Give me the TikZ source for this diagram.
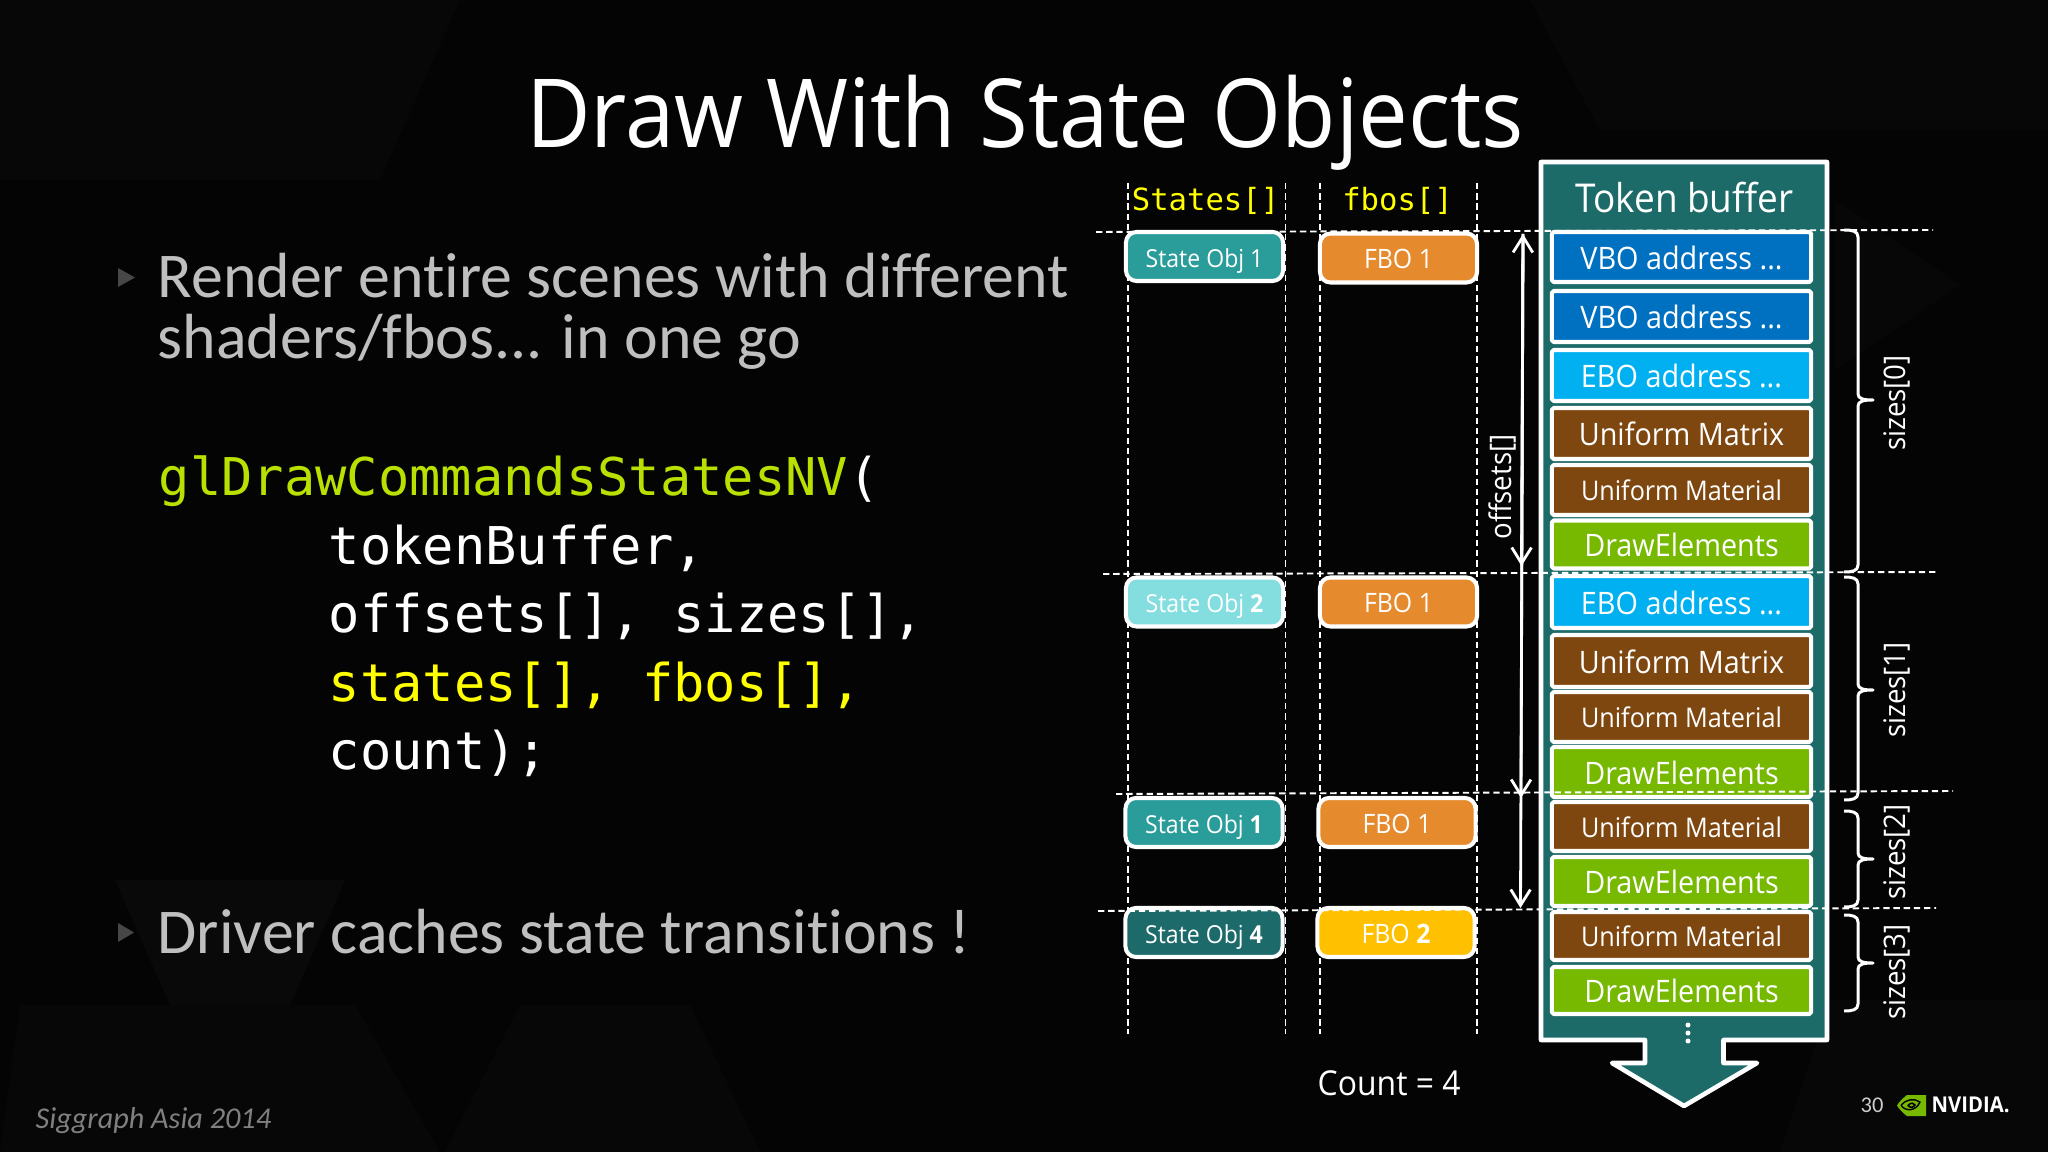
\documentclass[tikz,border=0pt]{standalone}
\usepackage{fontspec}
\setmainfont{Open Sans}[FakeStretch=0.93]
\newfontfamily\bulletfont{Carlito}[Ligatures=NoCommon]
\newfontfamily\codefont{DejaVu Sans Mono}
\usetikzlibrary{arrows.meta}
\definecolor{slidebg}{HTML}{040404}
\definecolor{facetone}{HTML}{090909}
\definecolor{facetwo}{HTML}{070707}
\definecolor{bulletgrey}{HTML}{BFBFBF}
\definecolor{nvgreen}{HTML}{76B900}
\definecolor{codegreen}{HTML}{B8E000}
\definecolor{codeyellow}{HTML}{FFFF00}
\definecolor{buffteal}{HTML}{1C6B68}
\definecolor{stateone}{HTML}{2A9D9A}
\definecolor{statetwo}{HTML}{84DEE0}
\definecolor{statefour}{HTML}{1D6A6A}
\definecolor{fboorange}{HTML}{E68A2E}
\definecolor{fboyellow}{HTML}{FFC000}
\definecolor{vboblue}{HTML}{0070C0}
\definecolor{eboblue}{HTML}{00B0F0}
\definecolor{unibrown}{HTML}{7F4710}
\newcommand{\sizecurl}[3]{\draw[sizebrace] (1844,#1) .. controls (1852,#1) and (1858,{#1+1}) .. (1858,{#1+7}) -- (1858,{#2-6}) .. controls (1858,{#2-1}) and (1864,#2) .. (1873,#2) .. controls (1864,#2) and (1858,{#2+1}) .. (1858,{#2+6}) -- (1858,{#3-7}) .. controls (1858,{#3-1}) and (1852,#3) .. (1844,#3);}
\tikzset{
	>={Straight Barb[length=4.5pt,width=5.6pt]},
	guide/.style={white,line width=0.55pt,dash pattern=on 1.8pt off 1.1pt},
	slotbox/.style={draw=white,line width=1.15pt,rounded corners=3pt,minimum width=1.57cm,minimum height=0.49cm,inner sep=0pt,text=white,text height=6pt,text depth=0pt,font=\fontsize{7.05}{8}\selectfont},
	fbobox/.style={slotbox,font=\fontsize{7.6}{9}\selectfont,text height=6.2pt},
	rowbox/.style={draw=white,line width=1.15pt,rounded corners=0.5pt,minimum width=2.59cm,inner sep=0pt,text=white,text height=6.9pt,text depth=0pt,font=\fontsize{8.8}{10}\selectfont},
	matbox/.style={rowbox,font=\fontsize{7.7}{9}\selectfont,fill=unibrown,text height=6.1pt},
	drawbox/.style={rowbox,fill=nvgreen},
	mtxbox/.style={rowbox,fill=unibrown},
	offarrow/.style={white,line width=0.8pt},
	sizebrace/.style={white,line width=0.85pt},
	sizelabel/.style={white,rotate=90,inner sep=0pt,font=\fontsize{8.45}{10}\selectfont},
	bulletmark/.style={fill=black!72!white},
	bullettext/.style={anchor=base west,inner sep=0pt,text=bulletgrey,font=\bulletfont\fontsize{18.15}{20}\selectfont},
	codetext/.style={anchor=base west,inner sep=0pt,text=white,font=\codefont\fontsize{14.8}{16}\selectfont},
	headtext/.style={anchor=base,inner sep=0pt,text=codeyellow,font=\codefont\fontsize{8.7}{10}\selectfont}
}
\begin{document}
\begin{tikzpicture}[line cap=butt,line join=round,x=0.01cm,y=-0.01cm]
	\useasboundingbox (0,0) rectangle (2048,1152);
	\fill[slidebg] (0,0) rectangle (2048,1152);
	% faint facets of the backdrop
	\fill[facetone] (115,880) -- (345,880) -- (290,1005) -- (170,1005) -- cycle;
	\fill[facetwo] (20,1005) -- (170,1005) -- (120,1152) -- (0,1152) -- cycle;
	\fill[facetwo] (170,1005) -- (355,1005) -- (440,1152) -- (120,1152) -- cycle;
	\fill[facetwo] (520,1005) -- (690,1005) -- (760,1152) -- (445,1152) -- cycle;
	\fill[facetwo] (0,0) -- (200,0) -- (120,180) -- (0,180) -- cycle;
	\fill[facetwo] (200,0) -- (460,0) -- (380,180) -- (120,180) -- cycle;
	\fill[facetwo] (1835,200) -- (1960,285) -- (1835,370) -- cycle;
	\fill[facetwo] (1830,1000) -- (2048,1000) -- (2048,1152) -- (1780,1152) -- cycle;
	\fill[facetwo] (1530,0) -- (2048,0) -- (2048,130) -- (1600,130) -- cycle;
	% title and left column
	\node[anchor=base,inner sep=0pt,white,font=\fontsize{27.1}{30}\selectfont] (title) at (1025,148) {Draw With State Objects};
	\fill[bulletmark] (118,268) -- (135,277.5) -- (118,287) -- cycle;
	\node[bullettext] (render) at (157,297.5) {Render entire scenes with different};
	\node[bullettext] (shaders) at (157,359) {shaders/fbos... in one go};
	\node[codetext] (glcall) at (158,496) {\textcolor{codegreen}{glDrawCommandsStatesNV}(};
	\node[codetext] (tokenarg) at (328,564) {tokenBuffer,};
	\node[codetext] (offsetarg) at (328,633) {offsets[], sizes[],};
	\node[codetext,text=codeyellow] (statearg) at (328,701) {states[], fbos[],};
	\node[codetext] (countarg) at (328,769) {count);};
	\fill[bulletmark] (118,923) -- (134,932.5) -- (118,942) -- cycle;
	\node[bullettext] (driver) at (157,953) {Driver caches state transitions !};
	\node[anchor=base west,inner sep=0pt,text=black!50!white,font=\bulletfont\itshape\fontsize{8.6}{10}\selectfont] (venue) at (35,1128) {Siggraph Asia 2014};
	% column guides
	\coordinate (colAtop) at (1128,183);
	\coordinate (colAend) at (1128,1034);
	\coordinate (colBtop) at (1285.5,183);
	\coordinate (colBend) at (1285.5,1034);
	\coordinate (colCtop) at (1320,183);
	\coordinate (colCend) at (1320,1034);
	\coordinate (colDtop) at (1477,183);
	\coordinate (colDend) at (1477,1034);
	\draw[guide] (colAtop) -- (colAend);
	\draw[guide] (colBtop) -- (colBend);
	\draw[guide] (colCtop) -- (colCend);
	\draw[guide] (colDtop) -- (colDend);
	\node[headtext] (stateshead) at (1205.5,211) {States[]};
	\node[headtext] (fboshead) at (1397.5,211) {fbos[]};
	% state objects and fbos
	\node[slotbox,fill=stateone] (state1) at (1204.5,256.5) {State Obj 1};
	\node[fbobox,fill=fboorange] (fbo1) at (1398.5,258) {FBO 1};
	\node[slotbox,fill=statetwo] (state2) at (1204.5,602) {State Obj \textbf{2}};
	\node[fbobox,fill=fboorange] (fbo2) at (1398.5,602) {FBO 1};
	\node[slotbox,fill=stateone] (state3) at (1204,822.5) {State Obj \textbf{1}};
	\node[fbobox,fill=fboorange] (fbo3) at (1397,822.5) {FBO 1};
	\node[slotbox,fill=statefour] (state4) at (1204,932.5) {State Obj \textbf{4}};
	\node[fbobox,fill=fboyellow] (fbo4) at (1396,932.5) {FBO \textbf{2}};
	\node[anchor=base west,inner sep=0pt,white,font=\fontsize{9.75}{11}\selectfont] (count) at (1317,1095) {Count = 4};
	% token buffer
	\draw[white,fill=buffteal,line width=1.3pt] (1541,162) -- (1827,162) -- (1827,1040) -- (1723.5,1040) -- (1723.5,1063) -- (1757,1063) -- (1684,1106) -- (1612,1063) -- (1645,1063) -- (1645,1040) -- (1541,1040) -- cycle;
	\node[anchor=base,inner sep=0pt,white,font=\fontsize{11.3}{13}\selectfont] (tokenhead) at (1684.5,212.5) {Token buffer};
	\node[rowbox,fill=vboblue,minimum height=0.50cm] (row1) at (1681.5,257) {VBO address ...};
	\node[rowbox,fill=vboblue,minimum height=0.51cm] (row2) at (1681.5,316.5) {VBO address ...};
	\node[rowbox,fill=eboblue,minimum height=0.51cm] (row3) at (1681.5,375.5) {EBO address ...};
	\node[mtxbox,minimum height=0.51cm] (row4) at (1681.5,433.5) {Uniform Matrix};
	\node[matbox,minimum height=0.50cm] (row5) at (1681.5,490) {Uniform Material};
	\node[drawbox,minimum height=0.48cm] (row6) at (1681.5,544.5) {DrawElements};
	\node[rowbox,fill=eboblue,minimum height=0.52cm] (row7) at (1681.5,602) {EBO address ...};
	\node[mtxbox,minimum height=0.52cm] (row8) at (1681.5,661) {Uniform Matrix};
	\node[matbox,minimum height=0.50cm] (row9) at (1681.5,717) {Uniform Material};
	\node[drawbox,minimum height=0.50cm] (row10) at (1681.5,772) {DrawElements};
	\node[matbox,minimum height=0.49cm] (row11) at (1681.5,826.5) {Uniform Material};
	\node[drawbox,minimum height=0.49cm] (row12) at (1681.5,881.5) {DrawElements};
	\node[matbox,minimum height=0.48cm] (row13) at (1681.5,936) {Uniform Material};
	\node[drawbox,minimum height=0.47cm] (row14) at (1681.5,990.5) {DrawElements};
	\fill[white] (1688,1025) circle (2.5) (1688,1033) circle (2.5) (1688,1041) circle (2.5);
	% offset arrows
	\coordinate (offtop) at (1523,234);
	\coordinate (off1) at (1521.5,566);
	\coordinate (off2) at (1521,798);
	\coordinate (off3) at (1520.5,908);
	\draw[offarrow,<->] (offtop) -- (off1);
	\draw[offarrow,->] (offtop) -- (off2);
	\draw[offarrow,->] (offtop) -- (off3);
	\node[sizelabel] (offsetlabel) at (1502,487) {offsets[]};
	% size braces
	\sizecurl{230}{400}{572}
	\sizecurl{577}{690}{800}
	\sizecurl{811}{859}{907}
	\sizecurl{915}{963}{1011}
	\node[sizelabel] (size0) at (1897,403) {sizes[0]};
	\node[sizelabel] (size1) at (1897,690) {sizes[1]};
	\node[sizelabel] (size2) at (1897,852) {sizes[2]};
	\node[sizelabel] (size3) at (1897,972) {sizes[3]};
	% horizontal guides on top
	\coordinate (lineAl) at (1096,232);
	\coordinate (lineAr) at (1933,230);
	\coordinate (lineBl) at (1103,574);
	\coordinate (lineBr) at (1939,572);
	\coordinate (lineCl) at (1116,794);
	\coordinate (lineCr) at (1953,791);
	\coordinate (lineDl) at (1098,911);
	\coordinate (lineDr) at (1936,908);
	\draw[guide] (lineAl) -- (lineAr);
	\draw[guide] (lineBl) -- (lineBr);
	\draw[guide] (lineCl) -- (lineCr);
	\draw[guide] (lineDl) -- (lineDr);
	% page number and logo
	\node[anchor=base west,inner sep=0pt,text=black!20!white,font=\bulletfont\fontsize{6.4}{7}\selectfont] (pagenum) at (1860,1112) {30};
	\fill[nvgreen] (1907,1095) -- (1926,1095) -- (1926,1116) -- (1907,1116) .. controls (1903,1113) and (1899,1109) .. (1897,1105.5) .. controls (1899,1102) and (1903,1098) .. (1907,1095) -- cycle;
	\draw[black,line width=0.4pt] (1901,1105.5) .. controls (1906,1099) and (1914,1098) .. (1920,1102) .. controls (1916,1111) and (1906,1112) .. (1901,1105.5) -- cycle;
	\draw[black,line width=0.45pt] (1908,1105.5) .. controls (1911,1102) and (1914,1103) .. (1915,1105) .. controls (1913,1108) and (1910,1108) .. (1908,1105.5) -- cycle;
	\node[anchor=base west,inner sep=0pt,white,font=\fontsize{6.2}{7}\selectfont\bfseries] (nvlogo) at (1931,1112) {NVIDIA.};
\end{tikzpicture}
\end{document}
